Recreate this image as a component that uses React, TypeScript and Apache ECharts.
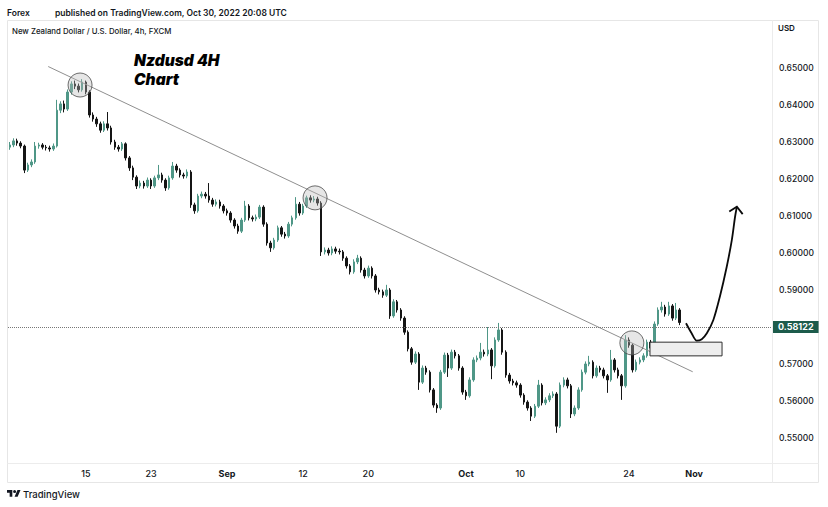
import React, { useEffect, useRef } from 'react';
import * as echarts from 'echarts';

// ---- Data (NZD/USD; 3 candles per trading day) ----
const opens = [
  0.6286, 0.6292, 0.6303, 0.6297, 0.6289, 0.6224, 0.6238, 0.6246, 0.6289, 0.6292,
  0.6286, 0.6284, 0.6281, 0.6289, 0.6386, 0.6403, 0.6389, 0.6435, 0.6457, 0.6451,
  0.6441, 0.6462, 0.6435, 0.6373, 0.6362, 0.6349, 0.6332, 0.6349, 0.6338, 0.6300,
  0.6286, 0.6281, 0.6295, 0.6257, 0.6230, 0.6205, 0.6181, 0.6189, 0.6181, 0.6197,
  0.6181, 0.6203, 0.6211, 0.6197, 0.6176, 0.6203, 0.6235, 0.6224, 0.6211, 0.6208,
  0.6219, 0.6130, 0.6114, 0.6154, 0.6159, 0.6154, 0.6143, 0.6132, 0.6138, 0.6127,
  0.6114, 0.6108, 0.6089, 0.6073, 0.6059, 0.6089, 0.6127, 0.6095, 0.6092, 0.6097,
  0.6124, 0.6078, 0.6027, 0.6014, 0.6035, 0.6068, 0.6051, 0.6046, 0.6078, 0.6095,
  0.6132, 0.6108, 0.6127, 0.6149, 0.6143, 0.6146, 0.6135, 0.6003, 0.6008, 0.6000,
  0.6011, 0.6005, 0.6003, 0.5986, 0.5965, 0.5949, 0.5976, 0.5986, 0.5954, 0.5938,
  0.5959, 0.5938, 0.5900, 0.5895, 0.5886, 0.5900, 0.5830, 0.5868, 0.5846, 0.5824,
  0.5786, 0.5741, 0.5705, 0.5727, 0.5651, 0.5689, 0.5678, 0.5630, 0.5589, 0.5581,
  0.5678, 0.5724, 0.5689, 0.5732, 0.5722, 0.5689, 0.5624, 0.5614, 0.5657, 0.5711,
  0.5716, 0.5732, 0.5727, 0.5738, 0.5695, 0.5765, 0.5792, 0.5732, 0.5670, 0.5654,
  0.5649, 0.5643, 0.5616, 0.5597, 0.5581, 0.5559, 0.5586, 0.5643, 0.5595, 0.5603,
  0.5614, 0.5619, 0.5532, 0.5643, 0.5657, 0.5641, 0.5565, 0.5581, 0.5630, 0.5678,
  0.5700, 0.5705, 0.5668, 0.5689, 0.5684, 0.5668, 0.5657, 0.5711, 0.5684, 0.5668,
  0.5641, 0.5765, 0.5751, 0.5684, 0.5705, 0.5711, 0.5722, 0.5759, 0.5743, 0.5808,
  0.5846, 0.5854, 0.5835, 0.5857, 0.5824, 0.5846,
];
const closes = [
  0.6292, 0.6303, 0.6297, 0.6289, 0.6224, 0.6238, 0.6246, 0.6289, 0.6292, 0.6286,
  0.6284, 0.6281, 0.6289, 0.6386, 0.6403, 0.6389, 0.6435, 0.6457, 0.6451, 0.6441,
  0.6462, 0.6435, 0.6373, 0.6362, 0.6349, 0.6332, 0.6349, 0.6338, 0.6300, 0.6286,
  0.6281, 0.6295, 0.6257, 0.6230, 0.6205, 0.6181, 0.6189, 0.6181, 0.6197, 0.6181,
  0.6203, 0.6211, 0.6197, 0.6176, 0.6203, 0.6235, 0.6224, 0.6211, 0.6208, 0.6219,
  0.6130, 0.6114, 0.6154, 0.6159, 0.6154, 0.6143, 0.6132, 0.6138, 0.6127, 0.6114,
  0.6108, 0.6089, 0.6073, 0.6059, 0.6089, 0.6127, 0.6095, 0.6092, 0.6097, 0.6124,
  0.6078, 0.6027, 0.6014, 0.6035, 0.6068, 0.6051, 0.6046, 0.6078, 0.6095, 0.6132,
  0.6108, 0.6127, 0.6149, 0.6143, 0.6146, 0.6135, 0.6003, 0.6008, 0.6000, 0.6011,
  0.6005, 0.6003, 0.5986, 0.5965, 0.5949, 0.5976, 0.5986, 0.5954, 0.5938, 0.5959,
  0.5938, 0.5900, 0.5895, 0.5886, 0.5900, 0.5830, 0.5868, 0.5846, 0.5824, 0.5786,
  0.5741, 0.5705, 0.5727, 0.5651, 0.5689, 0.5678, 0.5630, 0.5589, 0.5581, 0.5678,
  0.5724, 0.5689, 0.5732, 0.5722, 0.5689, 0.5624, 0.5614, 0.5657, 0.5711, 0.5716,
  0.5732, 0.5727, 0.5738, 0.5695, 0.5765, 0.5792, 0.5732, 0.5670, 0.5654, 0.5649,
  0.5643, 0.5616, 0.5597, 0.5581, 0.5559, 0.5586, 0.5643, 0.5595, 0.5603, 0.5614,
  0.5619, 0.5532, 0.5643, 0.5657, 0.5641, 0.5565, 0.5581, 0.5630, 0.5678, 0.5700,
  0.5705, 0.5668, 0.5689, 0.5684, 0.5668, 0.5657, 0.5711, 0.5684, 0.5668, 0.5641,
  0.5765, 0.5751, 0.5684, 0.5705, 0.5711, 0.5722, 0.5759, 0.5743, 0.5808, 0.5846,
  0.5854, 0.5835, 0.5857, 0.5824, 0.5846, 0.58122,
];
const lows = [
  0.6279, 0.6286, 0.6290, 0.6283, 0.6216, 0.6219, 0.6232, 0.6241, 0.6282, 0.6280,
  0.6277, 0.6274, 0.6276, 0.6285, 0.6378, 0.6380, 0.6384, 0.6428, 0.6443, 0.6434,
  0.6436, 0.6429, 0.6366, 0.6355, 0.6341, 0.6325, 0.6327, 0.6331, 0.6293, 0.6279,
  0.6274, 0.6276, 0.6250, 0.6222, 0.6197, 0.6173, 0.6175, 0.6174, 0.6176, 0.6173,
  0.6176, 0.6197, 0.6190, 0.6168, 0.6171, 0.6198, 0.6217, 0.6204, 0.6201, 0.6202,
  0.6122, 0.6106, 0.6109, 0.6148, 0.6147, 0.6136, 0.6125, 0.6126, 0.6120, 0.6107,
  0.6101, 0.6082, 0.6066, 0.6052, 0.6054, 0.6084, 0.6088, 0.6085, 0.6086, 0.6092,
  0.6071, 0.6020, 0.6003, 0.6009, 0.6030, 0.6044, 0.6039, 0.6041, 0.6072, 0.6090,
  0.6101, 0.6103, 0.6122, 0.6136, 0.6137, 0.6128, 0.5992, 0.5996, 0.5993, 0.5994,
  0.5998, 0.5996, 0.5979, 0.5958, 0.5942, 0.5944, 0.5970, 0.5947, 0.5931, 0.5933,
  0.5931, 0.5893, 0.5888, 0.5879, 0.5881, 0.5822, 0.5825, 0.5839, 0.5817, 0.5779,
  0.5734, 0.5698, 0.5700, 0.5630, 0.5646, 0.5671, 0.5623, 0.5582, 0.5568, 0.5576,
  0.5673, 0.5665, 0.5684, 0.5715, 0.5682, 0.5617, 0.5603, 0.5609, 0.5652, 0.5705,
  0.5710, 0.5720, 0.5721, 0.5659, 0.5690, 0.5760, 0.5725, 0.5663, 0.5647, 0.5642,
  0.5636, 0.5609, 0.5590, 0.5574, 0.5546, 0.5554, 0.5581, 0.5588, 0.5589, 0.5597,
  0.5608, 0.5514, 0.5527, 0.5637, 0.5634, 0.5554, 0.5559, 0.5576, 0.5625, 0.5672,
  0.5694, 0.5661, 0.5663, 0.5677, 0.5661, 0.5622, 0.5652, 0.5677, 0.5661, 0.5603,
  0.5636, 0.5744, 0.5677, 0.5679, 0.5699, 0.5705, 0.5717, 0.5736, 0.5738, 0.5803,
  0.5839, 0.5828, 0.5830, 0.5817, 0.5819, 0.5805,
];
const highs = [
  0.6300, 0.6310, 0.6309, 0.6302, 0.6293, 0.6244, 0.6253, 0.6300, 0.6298, 0.6297,
  0.6292, 0.6290, 0.6296, 0.6414, 0.6410, 0.6412, 0.6442, 0.6464, 0.6466, 0.6458,
  0.6470, 0.6466, 0.6440, 0.6380, 0.6368, 0.6355, 0.6356, 0.6381, 0.6344, 0.6306,
  0.6292, 0.6300, 0.6299, 0.6262, 0.6236, 0.6210, 0.6196, 0.6195, 0.6204, 0.6202,
  0.6209, 0.6238, 0.6217, 0.6202, 0.6209, 0.6246, 0.6241, 0.6229, 0.6217, 0.6226,
  0.6224, 0.6136, 0.6160, 0.6166, 0.6165, 0.6189, 0.6149, 0.6145, 0.6144, 0.6132,
  0.6120, 0.6113, 0.6094, 0.6079, 0.6095, 0.6141, 0.6132, 0.6101, 0.6104, 0.6130,
  0.6129, 0.6083, 0.6033, 0.6041, 0.6074, 0.6073, 0.6057, 0.6084, 0.6101, 0.6151,
  0.6138, 0.6133, 0.6155, 0.6156, 0.6154, 0.6152, 0.6140, 0.6015, 0.6014, 0.6018,
  0.6017, 0.6012, 0.6008, 0.5991, 0.5970, 0.5983, 0.5995, 0.5991, 0.5960, 0.5966,
  0.5964, 0.5943, 0.5906, 0.5901, 0.5914, 0.5905, 0.5875, 0.5873, 0.5851, 0.5829,
  0.5791, 0.5746, 0.5734, 0.5732, 0.5696, 0.5695, 0.5683, 0.5635, 0.5594, 0.5684,
  0.5731, 0.5730, 0.5739, 0.5738, 0.5727, 0.5694, 0.5630, 0.5664, 0.5718, 0.5723,
  0.5757, 0.5739, 0.5800, 0.5743, 0.5772, 0.5811, 0.5797, 0.5737, 0.5676, 0.5660,
  0.5655, 0.5648, 0.5621, 0.5602, 0.5586, 0.5592, 0.5657, 0.5648, 0.5610, 0.5621,
  0.5626, 0.5624, 0.5650, 0.5664, 0.5663, 0.5646, 0.5588, 0.5637, 0.5685, 0.5707,
  0.5722, 0.5710, 0.5696, 0.5695, 0.5690, 0.5673, 0.5738, 0.5716, 0.5690, 0.5673,
  0.5778, 0.5772, 0.5756, 0.5712, 0.5718, 0.5729, 0.5766, 0.5765, 0.5815, 0.5853,
  0.5868, 0.5860, 0.5868, 0.5862, 0.5865, 0.5851,
];
const currentPrice = 0.58122;
const priceTicks = [0.55, 0.56, 0.57, 0.58, 0.59, 0.6, 0.61, 0.62, 0.63, 0.64, 0.65];
const axisDates = [
  '2022-08-15', '2022-08-23', '2022-09-01', '2022-09-12', '2022-09-20',
  '2022-10-03', '2022-10-10', '2022-10-24', '2022-11-01',
];
const axisTickLabels = ['15', '23', 'Sep', '12', '20', 'Oct', '10', '24', 'Nov'];
// annotations, in [candle slot, price]
const trendLine = [[10.6, 0.6504], [188.6, 0.5679]];
const touchPoints = [[19.4, 0.6454], [84.3, 0.6149], [171.8, 0.5757]];
const zoneBox = [[176.8, 0.5759, 196.7, 0.5722]];
const projection = [
  [186.75, 0.581], [188.3, 0.5783], [189.7, 0.5763], [191.1, 0.5767], [192.5, 0.5783],
  [194.3, 0.5819], [196.1, 0.5882], [198.0, 0.5963], [199.4, 0.6035], [200.3, 0.6098],
  [200.8, 0.6125],
];
const arrowHead = [[198.7, 0.6112], [200.8, 0.6125], [202.4, 0.6105]];

// ---- layout constants ----
const SLOTS = 211;
const Y_MIN = 0.543243;
const Y_MAX = 0.662973;
const FONT = "Inter, Roboto, 'Noto Sans', sans-serif";
const INK = '#131722';

const TV_LOGO = 'M14 22H7V11H0V4h14v18zM28 22h-8l7.5-18h8L28 22zM24 8a4 4 0 1 1-8 0a4 4 0 1 1 8 0z';
echarts.graphic.registerShape('tvlogo', echarts.graphic.extendPath(TV_LOGO, {}) as any);

function buildCategories(): string[] {
  const out: string[] = [];
  let t = Date.UTC(2022, 7, 4);
  while (out.length < SLOTS) {
    const d = new Date(t);
    const wd = d.getUTCDay();
    if (wd !== 0 && wd !== 6) {
      const iso = d.toISOString().slice(0, 10);
      for (let k = 0; k < 3; k++) out.push(iso + '|' + k);
    }
    t += 86400000;
  }
  return out.slice(0, SLOTS);
}

export default function App() {
  const ref = useRef<HTMLDivElement>(null);
  useEffect(() => {
    const el = ref.current;
    if (!el) return;
    const chart = echarts.init(el, null, { renderer: 'svg' });
    const categories = buildCategories();
    const labelBySlot = new Map<number, string>();
    categories.forEach((c, i) => {
      const [iso, k] = c.split('|');
      const j = axisDates.indexOf(iso);
      if (k === '0' && j >= 0) labelBySlot.set(i, axisTickLabels[j]);
    });
    const candles = closes.map((c, i) => [opens[i], c, lows[i], highs[i]]);

    const option: any = {
      animation: false,
      backgroundColor: '#ffffff',
      grid: { left: 8, right: 56, top: 20, bottom: 44 },
      xAxis: [
        {
          type: 'category',
          data: categories,
          boundaryGap: true,
          axisLine: { show: false },
          axisTick: { show: false },
          splitLine: { show: false },
          axisLabel: {
            interval: (i: number) => labelBySlot.has(i),
            hideOverlap: false,
            formatter: (_v: string, i: number) => {
              const s = labelBySlot.get(i) || '';
              return /^\d+$/.test(s) ? s : '{m|' + s + '}';
            },
            color: INK,
            fontSize: 9,
            fontWeight: 500,
            fontFamily: FONT,
            margin: 6,
            rich: { m: { fontWeight: 700, fontSize: 9, fontFamily: FONT, color: INK } },
          },
        },
        { type: 'value', min: -0.5, max: SLOTS - 0.5, show: false },
      ],
      yAxis: {
        type: 'value',
        position: 'right',
        min: Y_MIN,
        max: Y_MAX,
        axisLine: { show: false },
        axisTick: { show: false },
        splitLine: { show: false },
        axisLabel: {
          customValues: priceTicks,
          formatter: (v: number) => v.toFixed(5),
          color: INK,
          fontSize: 8.5,
          fontWeight: 500,
          fontFamily: FONT,
          margin: 7,
        },
      },
      series: [
        {
          type: 'candlestick',
          xAxisIndex: 0,
          data: candles,
          barWidth: 2,
          z: 2,
          itemStyle: {
            color: '#4f9787',
            borderColor: '#4f9787',
            color0: '#151515',
            borderColor0: '#151515',
            borderWidth: 1,
          },
          markLine: {
            silent: true,
            symbol: ['none', 'none'],
            lineStyle: { color: '#777777', type: 'dotted', width: 1 },
            label: {
              show: true,
              position: 'end',
              formatter: () => currentPrice.toFixed(5),
              color: '#ffffff',
              backgroundColor: '#1d5b4b',
              padding: [2, 5, 1, 5],
              fontSize: 9,
              fontWeight: 700,
              fontFamily: FONT,
              distance: 1,
            },
            data: [{ yAxis: currentPrice }],
          },
        },
        {
          type: 'line',
          xAxisIndex: 1,
          data: trendLine,
          showSymbol: false,
          silent: true,
          z: 3,
          lineStyle: { color: '#8f8f8f', width: 1 },
        },
        {
          type: 'scatter',
          xAxisIndex: 1,
          data: touchPoints,
          symbol: 'circle',
          symbolSize: 24,
          silent: true,
          z: 4,
          itemStyle: { color: 'rgba(185,185,185,0.45)', borderColor: '#4a4a4a', borderWidth: 1 },
        },
        {
          type: 'custom',
          xAxisIndex: 1,
          data: zoneBox,
          encode: { x: [0, 2], y: [1, 3] },
          silent: true,
          z: 5,
          renderItem: (_p: any, api: any) => {
            const a = api.coord([api.value(0), api.value(1)]);
            const b = api.coord([api.value(2), api.value(3)]);
            return {
              type: 'rect',
              shape: { x: a[0], y: a[1], width: b[0] - a[0], height: b[1] - a[1] },
              style: { fill: '#eeeeee', stroke: '#2e2e2e', lineWidth: 1 },
            };
          },
        },
        {
          type: 'line',
          xAxisIndex: 1,
          data: projection,
          smooth: 0.3,
          showSymbol: false,
          silent: true,
          z: 6,
          lineStyle: { color: '#0a0a0a', width: 1.8 },
        },
        {
          type: 'line',
          xAxisIndex: 1,
          data: arrowHead,
          showSymbol: false,
          silent: true,
          z: 6,
          lineStyle: { color: '#0a0a0a', width: 1.8, join: 'miter' },
        },
      ],
      graphic: [
        { type: 'rect', silent: true, z: -10, shape: { x: 7.5, y: 20.5, width: 811, height: 462 }, style: { fill: 'none', stroke: '#e6e6e6', lineWidth: 1 } },
        { type: 'line', silent: true, z: -10, shape: { x1: 7.5, y1: 463.5, x2: 818.5, y2: 463.5 }, style: { stroke: '#ececec', lineWidth: 1 } },
        { type: 'line', silent: true, z: -10, shape: { x1: 772.5, y1: 20.5, x2: 772.5, y2: 482.5 }, style: { stroke: '#ececec', lineWidth: 1 } },
        { type: 'text', x: 7, y: 12.5, style: { text: 'Forex', fill: INK, font: `600 8.5px ${FONT}`, verticalAlign: 'middle' } },
        { type: 'text', x: 55, y: 12.5, style: { text: 'published on TradingView.com, Oct 30, 2022 20:08 UTC', fill: INK, font: `600 8.5px ${FONT}`, verticalAlign: 'middle' } },
        { type: 'text', x: 12, y: 31, style: { text: 'New Zealand Dollar / U.S. Dollar, 4h, FXCM', fill: INK, font: `500 7.8px ${FONT}`, verticalAlign: 'middle' } },
        { type: 'text', x: 778, y: 28, style: { text: 'USD', fill: INK, font: `600 8px ${FONT}`, verticalAlign: 'middle' } },
        { type: 'text', x: 134, y: 60, style: { text: 'Nzdusd 4H', fill: '#000000', font: `italic 900 15.5px ${FONT}`, verticalAlign: 'middle' } },
        { type: 'text', x: 134, y: 79.5, style: { text: 'Chart', fill: '#000000', font: `italic 900 15.5px ${FONT}`, verticalAlign: 'middle' } },
        { type: 'tvlogo', x: 7, y: 488.5, scaleX: 0.38, scaleY: 0.38, style: { fill: INK } },
        { type: 'text', x: 23, y: 494, style: { text: 'TradingView', fill: INK, font: `500 9.5px ${FONT}`, verticalAlign: 'middle' } },
      ],
    };
    chart.setOption(option);
    return () => chart.dispose();
  }, []);
  return (
    <div
      ref={ref}
      style={{ position: 'fixed', left: 0, top: 0, width: 828, height: 507, background: '#ffffff' }}
    />
  );
}
